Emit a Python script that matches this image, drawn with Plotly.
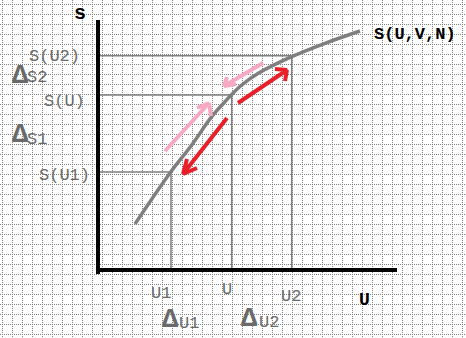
import plotly.graph_objects as go

# ---- data (diagram units: U horizontal, S vertical, 1 unit = one grid square) ----
curve_u = [3.7, 7.2, 9.37, 11.37, 12.7, 13.37, 14.37, 16.03, 19.37, 22.7, 26.2]
curve_s = [4.6, 9.7, 12.5, 15.33, 16.83, 17.55, 18.5, 19.67, 21.33, 22.67, 23.9]

ref_u = [7.3, 13.37, 19.37]          # U1, U, U2
ref_s = [9.8, 17.5, 21.43]           # S(U1), S(U), S(U2)

axis_x_u = [-0.2, 29.9]
axis_x_s = [0, 0]
axis_y_u = [0, 0]
axis_y_s = [-0.4, 25.0]

# arrows: tail, tip, barb1, barb2
pink_up = [(6.7, 11.9), (11.1, 16.7), (9.9, 16.2), (11.3, 15.4)]
pink_down = [(16.5, 20.7), (12.6, 18.4), (12.9, 19.3), (13.8, 18.6)]
red_down = [(12.9, 15.2), (8.5, 9.6), (8.9, 11.1), (9.9, 10.2)]
red_up = [(14.0, 16.7), (18.9, 20.0), (17.7, 20.1), (18.7, 18.9)]

# labels: text, u, s
gray_labels = [
    ("S(U2)", -4.35, 21.4),
    ("S(U)", -3.35, 16.9),
    ("S(U1)", -3.4, 9.5),
    ("S2", -6.1, 19.3),
    ("S1", -6.1, 13.1),
    ("U1", 6.25, -2.3),
    ("U", 12.9, -1.95),
    ("U2", 19.25, -2.6),
    ("U1", 9.1, -5.3),
    ("U2", 17.1, -5.25),
]
delta_labels = [
    ("Δ", -7.8, 19.4),
    ("Δ", -7.8, 13.5),
    ("Δ", 7.15, -4.95),
    ("Δ", 15.1, -4.85),
]
black_labels = [
    ("s", -1.8, 25.7, 20),
    ("U", 26.65, -2.95, 18),
    ("S(U,V,N)", 31.65, 23.6, 17),
]

GRAY = "#7f7f7f"
LABEL_GRAY = "#6a6a6a"
PINK = "#f7a9c4"
RED = "#e8202a"

fig = go.Figure()

# reference lines
for u, s in zip(ref_u, ref_s):
    fig.add_trace(go.Scatter(x=[0, u, u], y=[s, s, 0], mode="lines",
                             line=dict(color=GRAY, width=1.5), hoverinfo="skip"))

# curve
fig.add_trace(go.Scatter(x=curve_u, y=curve_s, mode="lines", line_shape="spline",
                         line=dict(color=GRAY, width=3.5), hoverinfo="skip"))


def arrow(pts, color):
    (tu, ts), (hu, hs), (b1u, b1s), (b2u, b2s) = pts
    return go.Scatter(x=[tu, hu, b1u, None, hu, b2u], y=[ts, hs, b1s, None, hs, b2s],
                      mode="lines", line=dict(color=color, width=4), hoverinfo="skip")


fig.add_trace(arrow(pink_up, PINK))
fig.add_trace(arrow(pink_down, PINK))
fig.add_trace(arrow(red_down, RED))
fig.add_trace(arrow(red_up, RED))

# axes
fig.add_trace(go.Scatter(x=axis_y_u, y=axis_y_s, mode="lines",
                         line=dict(color="black", width=4), hoverinfo="skip"))
fig.add_trace(go.Scatter(x=axis_x_u, y=axis_x_s, mode="lines",
                         line=dict(color="black", width=4), hoverinfo="skip"))

ann = []
for t, u, s in gray_labels:
    ann.append(dict(text=t, x=u, y=s, xref="x", yref="y", showarrow=False,
                    xanchor="center", yanchor="middle",
                    font=dict(family="Liberation Mono", size=17, color=LABEL_GRAY)))
for t, u, s in delta_labels:
    ann.append(dict(text="<b>" + t + "</b>", x=u, y=s, xref="x", yref="y", showarrow=False,
                    xanchor="center", yanchor="middle",
                    font=dict(family="Liberation Sans Narrow, Liberation Mono", size=27,
                              color=LABEL_GRAY)))
for t, u, s, sz in black_labels:
    ann.append(dict(text="<b>" + t + "</b>", x=u, y=s, xref="x", yref="y", showarrow=False,
                    xanchor="center", yanchor="middle",
                    font=dict(family="Liberation Mono", size=sz, color="black")))

grid = dict(showgrid=True, gridcolor="#808080", gridwidth=1, griddash="1px,1px",
            dtick=1, zeroline=False, showline=False, showticklabels=False, ticks="",
            fixedrange=True)

fig.update_layout(
    width=466, height=338,
    margin=dict(l=0, r=0, t=0, b=0, pad=0),
    paper_bgcolor="white", plot_bgcolor="white",
    showlegend=False,
    xaxis=dict(range=[-9.8, 36.8], tick0=0.4, **grid),
    yaxis=dict(range=[-6.8, 27.0], tick0=0.6, **grid),
    annotations=ann,
)

fig.write_html("out.html")
